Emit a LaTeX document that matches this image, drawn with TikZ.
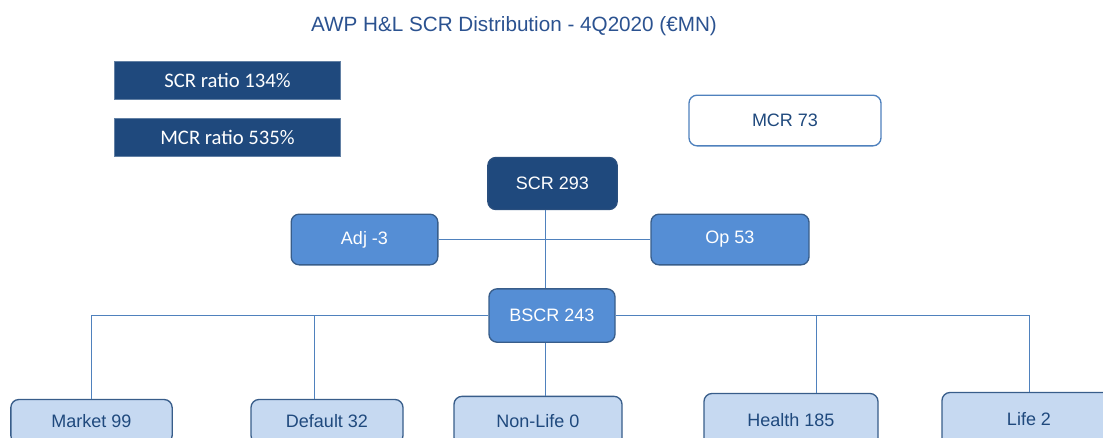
\documentclass[tikz,border=0pt]{standalone}
\usepackage{fontspec}
\setmainfont{Liberation Sans}
\newfontfamily\calibri{Carlito}
\usepackage{tikz}
\usetikzlibrary{positioning}
\definecolor{navy}{HTML}{1F497D}
\definecolor{navyline}{HTML}{2A4F7E}
\definecolor{midblue}{HTML}{558ED5}
\definecolor{lightblue}{HTML}{C6D9F1}
\definecolor{edgeblue}{HTML}{385D8A}
\definecolor{linkblue}{HTML}{4F81BD}
\definecolor{titleblue}{HTML}{2B5290}

\begin{document}
\begin{tikzpicture}[x=0.75pt, y=-0.75pt,
   box/.style={rectangle, rounded corners=6pt, inner sep=0pt, line width=1pt,
     font=\fontsize{13.5}{16}\selectfont},
   darkbox/.style={box, draw=navyline, fill=navy, text=white},
   midbox/.style={box, draw=edgeblue, fill=midblue, text=white},
   lightbox/.style={box, draw=edgeblue, fill=lightblue, text=navy},
   plainbox/.style={box, draw=linkblue, fill=white, text=navy},
   ratiobox/.style={rectangle, inner sep=0pt, draw=navy!70, line width=0.6pt, fill=navy,
     text=white, minimum width=170pt, font=\calibri\fontsize{15.5}{18}\selectfont},
   link/.style={draw=linkblue, line width=0.75pt}]
   \useasboundingbox (0,0) rectangle (1103,437);
   \clip (0,0) rectangle (1103,437);
   \node[text=titleblue, font=\fontsize{15.5}{18}\selectfont] (title) at (514,26.5)
     {AWP H\&L SCR Distribution - 4Q2020 (€MN)};
   \node[ratiobox, minimum height=28pt] (scrratio) at (227.5,80.5) {SCR ratio 134\%};
   \node[ratiobox, minimum height=28.5pt] (mcrratio) at (227.5,137) {MCR ratio 535\%};
   \node[plainbox, minimum width=144pt, minimum height=38pt] (mcr) at (785,120.5) {MCR 73};
   \node[darkbox, minimum width=97pt, minimum height=39pt] (scr) at (552.5,183.5) {SCR 293};
   \node[midbox, minimum width=110pt, minimum height=38pt] (adj) at (364.5,239.5) {Adj -3};
   \node[midbox, minimum width=118.5pt, minimum height=38pt] (op) at (730,239.5) {Op 53};
   \node[midbox, minimum width=94.5pt, minimum height=40pt] (bscr) at (552,315.5) {BSCR 243};
   \node[lightbox, minimum width=121pt, minimum height=33pt] (market) at (91.5,421.5) {Market 99};
   \node[lightbox, minimum width=114pt, minimum height=33pt] (default) at (327,421.5) {Default 32};
   \node[lightbox, minimum width=126pt, minimum height=37pt] (nonlife) at (538,421) {Non-Life 0};
   \node[lightbox, minimum width=130.5pt, minimum height=40.5pt] (health) at (791,420.5) {Health 185};
   \node[lightbox, minimum width=130.5pt, minimum height=40.5pt] (life) at (1029,419.5) {Life 2};
   \coordinate (spine) at (545,0);
   \draw[link] (spine |- scr.south) -- (spine |- bscr.north);
   \draw[link] (adj) -- (op);
   \draw[link] (spine |- bscr.south) -- (spine |- nonlife.north);
   \draw[link] (bscr.west) -| (market.north);
   \draw[link] (bscr.west) -| ([xshift=-9.75pt]default.north);
   \draw[link] (bscr.east) -| ([xshift=18.75pt]health.north);
   \draw[link] (bscr.east) -| (life.north);
\end{tikzpicture}
\end{document}
